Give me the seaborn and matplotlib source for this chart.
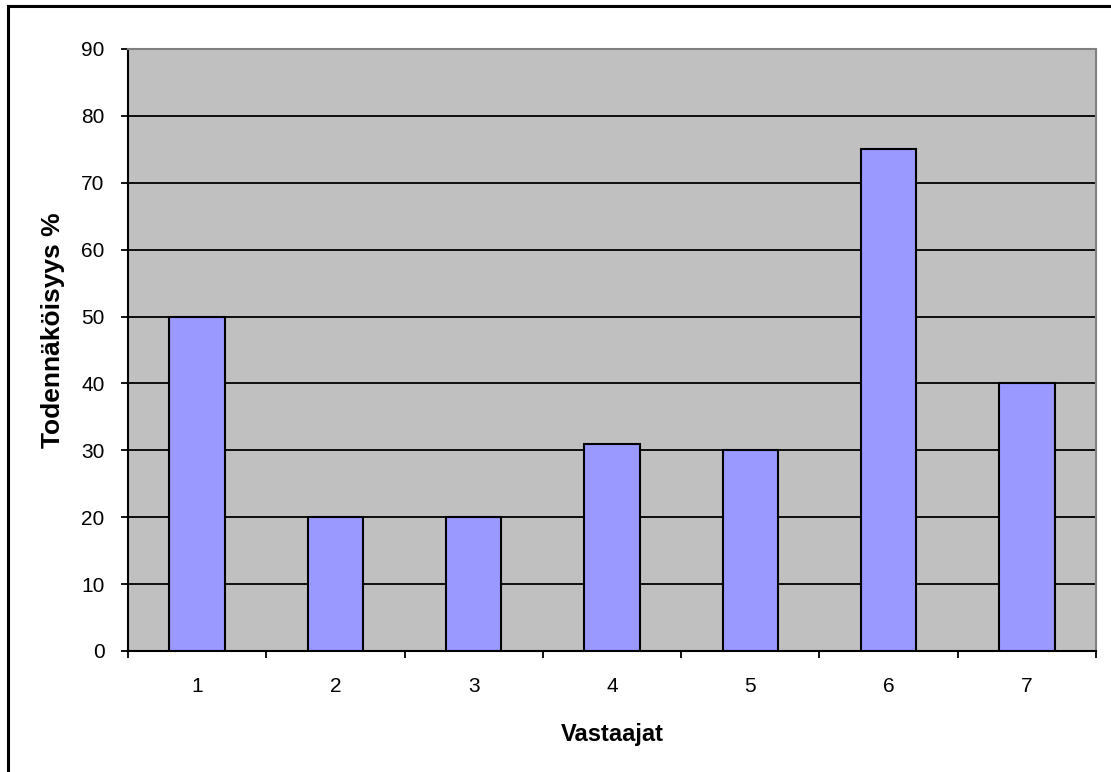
import matplotlib
matplotlib.use("Agg")
import matplotlib.pyplot as plt
import seaborn as sns
import pandas as pd
from matplotlib.patches import Rectangle
from matplotlib.ticker import FixedLocator

categories = ["1", "2", "3", "4", "5", "6", "7"]
values = [50, 20, 20, 31, 30, 75, 40]
y_ticks = [0, 10, 20, 30, 40, 50, 60, 70, 80, 90]

sns.set_theme(style="white")
plt.rcParams['font.family'] = ['Liberation Sans', 'DejaVu Sans']

df = pd.DataFrame({"Vastaajat": categories, "val": values})

fig = plt.figure(figsize=(11.11, 7.72), dpi=100)
ax = fig.add_axes([128/1111, 1-651/772, (1096-128)/1111, (651-49)/772])
ax.set_facecolor("#C0C0C0")

sns.barplot(data=df, x="Vastaajat", y="val", color="#9999FF", width=0.4,
            edgecolor="black", linewidth=1.5, saturation=1, ax=ax, zorder=3)

ax.set_ylim(0, 90)
ax.set_xlim(-0.5, 6.5)
ax.set_yticks(y_ticks)
ax.yaxis.grid(True, color="black", linewidth=1.3, zorder=1)
ax.set_axisbelow(True)

ax.xaxis.set_minor_locator(FixedLocator([i - 0.5 for i in range(8)]))
ax.tick_params(axis="x", which="major", length=0, labelsize=15, pad=19, colors="black")
ax.tick_params(axis="x", which="minor", length=5, width=1.3, direction="out", bottom=True, color="black")
ax.tick_params(axis="y", which="major", length=5, width=1.3, direction="out", left=True, labelsize=15, pad=12, colors="black")

for s in ["left", "bottom"]:
    ax.spines[s].set_color("black")
    ax.spines[s].set_linewidth(1.5)
for s in ["top", "right"]:
    ax.spines[s].set_color("#808080")
    ax.spines[s].set_linewidth(1.5)

ax.set_xlabel("Vastaajat", fontsize=17, fontweight="bold", labelpad=19, color="black")
ax.set_ylabel("Todennäköisyys %", fontsize=19, fontweight="bold", color="black")
ax.yaxis.set_label_coords(-0.065, 0.533)

fig.patches.append(Rectangle((8/1111, -0.05), 1.2, 1 - 6/772 + 0.05, transform=fig.transFigure,
                             fill=False, edgecolor="black", linewidth=2.2, zorder=10))

fig.savefig("out.png", dpi=100)
